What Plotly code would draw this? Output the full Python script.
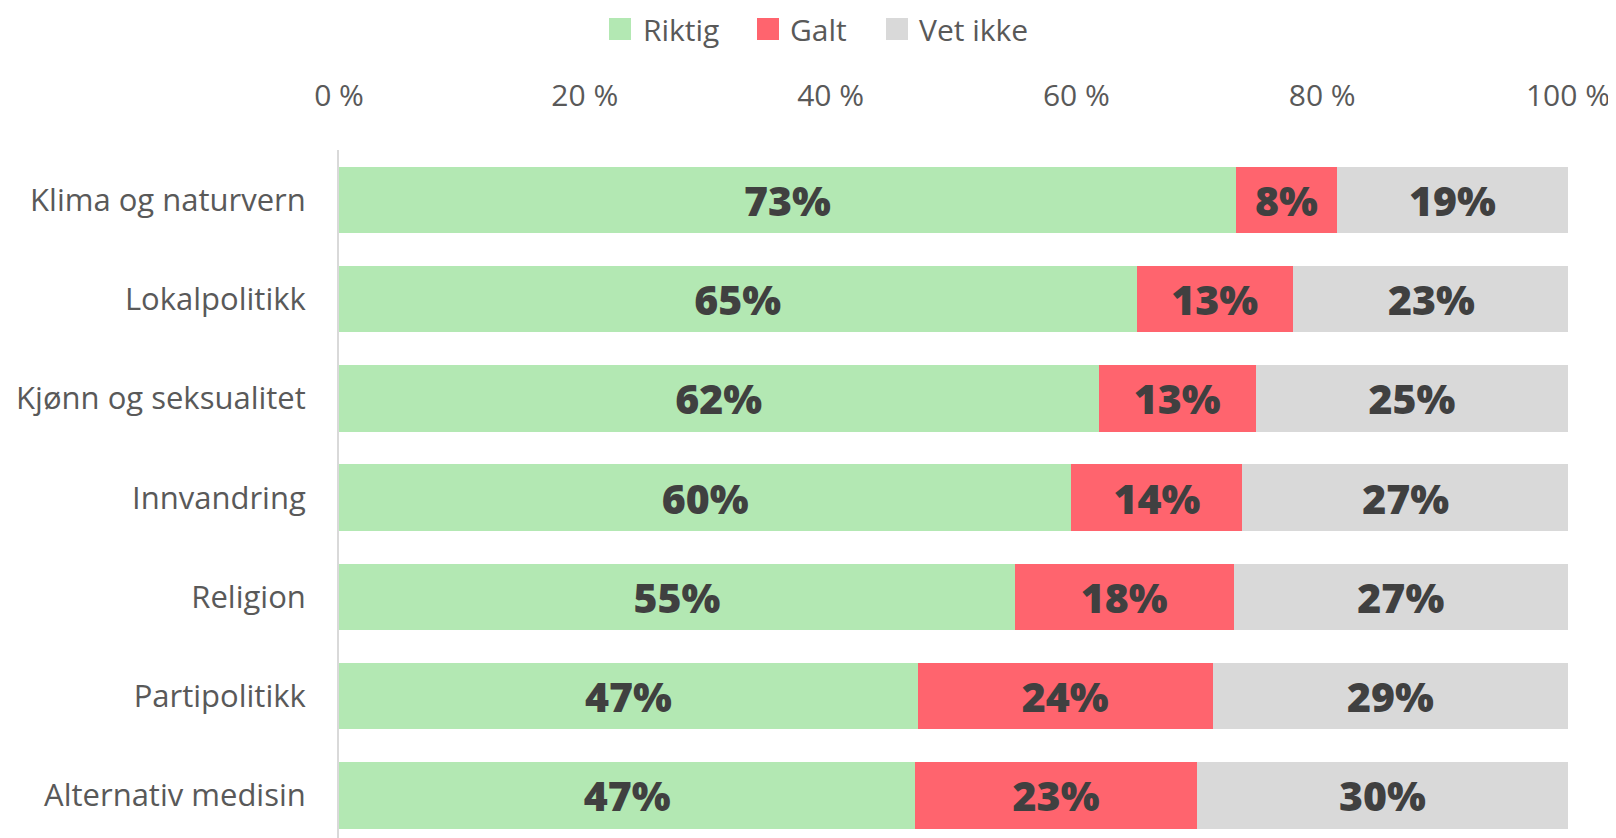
import plotly.graph_objects as go

# Tema og andeler (prosent), lest av bildet
categories = [
    "Klima og naturvern",
    "Lokalpolitikk",
    "Kjønn og seksualitet",
    "Innvandring",
    "Religion",
    "Partipolitikk",
    "Alternativ medisin",
]
riktig = [73.0, 64.9, 61.8, 59.6, 55.0, 47.1, 46.9]
galt = [8.2, 12.7, 12.8, 13.9, 17.8, 24.0, 22.9]
vet_ikke = [18.8, 22.6, 25.4, 26.6, 27.2, 28.9, 30.2]
tick_values = [0, 20, 40, 60, 80, 100]

series = [
    ("Riktig", riktig, "#b3e8b3"),
    ("Galt", galt, "#ff646e"),
    ("Vet ikke", vet_ikke, "#d9d9d9"),
]

FONT = "Open Sans"
# the page body has an 8px margin, so the figure is drawn 8px smaller
OFF = 8
W, H = 1616 - OFF, 838 - OFF
L, R, T, B = 339 - OFF, 48, 150 - OFF, 0


def px_x(px):
    # window pixel -> paper x
    return (px - OFF - L) / (W - L - R)


def px_y(py):
    # window pixel (from top) -> paper y
    return (H - B - (py - OFF)) / (H - T - B)


fig = go.Figure()

for name, values, color in series:
    fig.add_trace(go.Bar(
        y=categories,
        x=values,
        orientation="h",
        name=name,
        marker=dict(color=color, line=dict(width=0)),
        text=[f"{round(v)}%" for v in values],
        textposition="inside",
        insidetextanchor="middle",
        constraintext="none",
        textfont=dict(family=FONT, size=41, color="#404040", weight=800),
        showlegend=False,
        hoverinfo="skip",
    ))

# manual legend (big squares)
legend_pos = [(609, 642), (757, 789), (886, 918)]
for (name, _, color), (sq_x, txt_x) in zip(series, legend_pos):
    fig.add_shape(
        type="rect", xref="paper", yref="paper",
        x0=px_x(sq_x), x1=px_x(sq_x + 22),
        y0=px_y(40), y1=px_y(18),
        fillcolor=color, line=dict(width=0),
    )
    fig.add_annotation(
        xref="paper", yref="paper",
        x=px_x(txt_x), y=px_y(29),
        text=name, showarrow=False,
        xanchor="left", yanchor="middle",
        borderpad=0,
        font=dict(family=FONT, size=30, color="#595959"),
    )

fig.update_layout(
    width=W,
    height=H,
    barmode="stack",
    bargap=0.33,
    plot_bgcolor="white",
    paper_bgcolor="white",
    margin=dict(l=L, r=R, t=T, b=B),
    font=dict(family=FONT, color="#595959"),
    showlegend=False,
    xaxis=dict(
        side="top",
        range=[0, 100],
        tickvals=tick_values,
        ticktext=[f"{v} %" for v in tick_values],
        showgrid=False,
        zeroline=False,
        ticks="",
        ticklabelstandoff=37,
        automargin=False,
        tickfont=dict(size=30, color="#595959"),
    ),
    yaxis=dict(
        categoryorder="array",
        categoryarray=categories,
        range=[6.43, -0.504],
        showgrid=False,
        zeroline=False,
        showline=True,
        linecolor="#d9d9d9",
        linewidth=2,
        ticks="",
        ticklabelstandoff=25,
        automargin=False,
        tickfont=dict(size=31, color="#595959"),
    ),
)

fig.write_html("out.html")
